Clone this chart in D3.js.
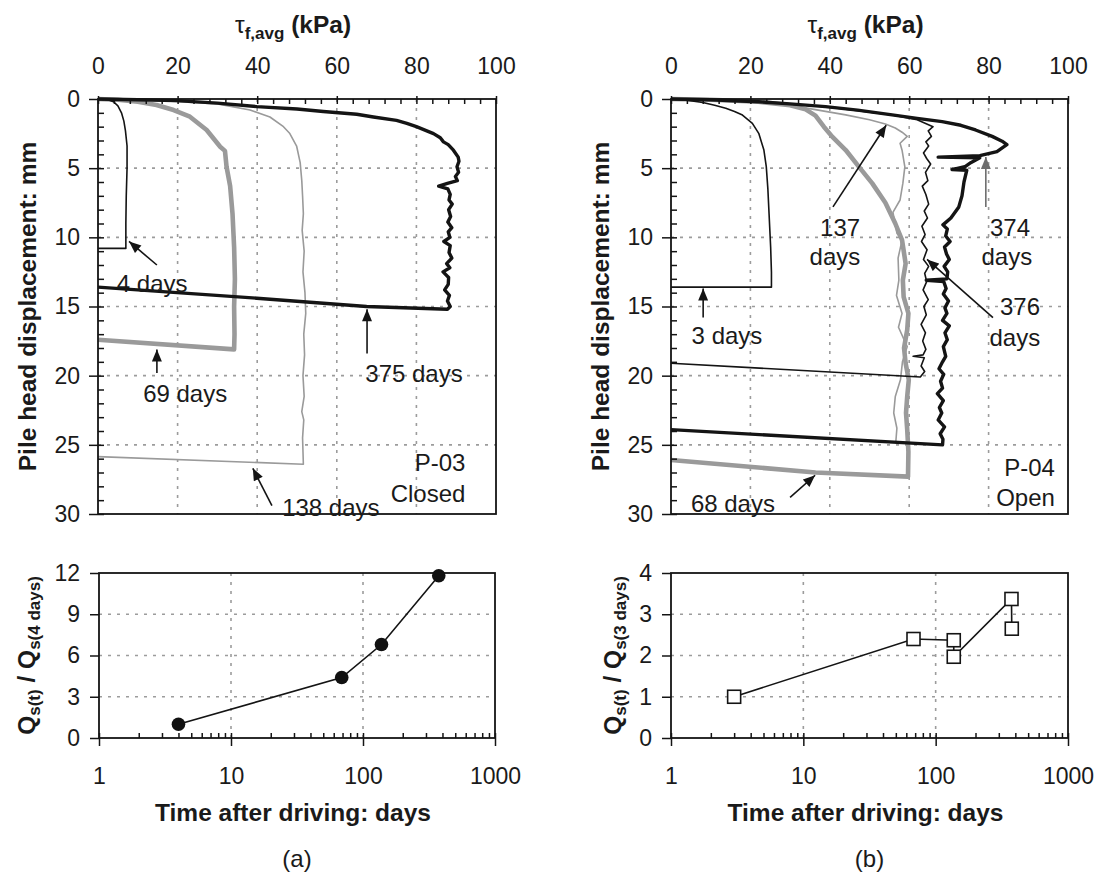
<!DOCTYPE html>
<html><head><meta charset="utf-8">
<script src="https://cdn.jsdelivr.net/npm/d3@7"></script>
<style>
body{margin:0;background:#fff}
svg{display:block}
text{font-family:"Liberation Sans",Arial,Helvetica,sans-serif;fill:#1a1a1a}
</style>
</head><body>
<svg id="c" width="1108" height="879"></svg>
<script>
// ---------- tick labels ----------
const tauTicks = [0, 20, 40, 60, 80, 100];
const dispTicks = [0, 5, 10, 15, 20, 25, 30];
const timeTicks = [1, 10, 100, 1000];
const ratioTicksA = [0, 3, 6, 9, 12];
const ratioTicksB = [0, 1, 2, 3, 4];

// ---------- (a) P-03 closed: [tau_f,avg kPa, displacement mm] ----------
const curveA4 = [[0,0],[2.5,0.05],[3.9,0.2],[5.0,0.5],[5.9,1.0],[6.5,1.6],[6.9,2.3],[7.3,3.4],[7.3,5.0],[7.1,7.0],[7.0,9.0],[7.0,10.8],[0,10.8]];
const curveA69 = [[0,0],[5,0.05],[10,0.2],[14.7,0.43],[19,0.8],[23.1,1.28],[27.3,2.24],[30.7,3.45],[31.9,3.75],[32.3,4.9],[33.2,6.3],[33.8,8.3],[34.2,10.7],[34.4,13],[34.2,15],[34.3,17],[34.2,18.1],[0,17.4]];
const curveA138 = [[0,0],[15,0.1],[30,0.35],[38.2,0.8],[43.2,1.3],[46.6,2.0],[48.2,2.5],[49.9,3.4],[50.8,4.6],[51.2,5.9],[51.4,7.0],[51.6,8.3],[51.3,9.5],[51.8,11.0],[51.5,12.5],[52.0,14.0],[52.2,15.5],[51.7,17.0],[51.9,18.5],[51.5,20.0],[51.8,21.5],[51.2,22.6],[51.7,23.2],[51.4,24.5],[51.6,26.4],[0,25.85]];
const curveA375 = [[0,0],[10,0.05],[19.8,0.12],[30,0.3],[39.9,0.55],[50,0.72],[56.6,0.9],[65,1.1],[69.2,1.3],[75,1.55],[77.6,1.76],[80,2.0],[84.3,2.5],[86,2.8],[86.8,3.1],[88,3.3],[89.3,3.7],[90.5,4.2],[90.7,4.5],[90.2,4.9],[90.6,5.3],[89.8,5.6],[90.3,5.9],[87.8,6.1],[85.6,6.3],[87.9,6.5],[88.5,6.9],[88.2,7.3],[89.0,7.6],[88.1,8.0],[88.6,8.5],[87.9,8.9],[88.9,9.3],[88.0,9.6],[88.4,10.0],[86.9,10.3],[88.5,10.6],[88.2,11.1],[88.9,11.5],[87.6,11.9],[88.4,12.2],[86.7,12.5],[88.1,12.9],[88.0,13.4],[87.1,13.8],[88.3,14.2],[87.8,14.6],[88.5,15.0],[87.8,15.2],[67.5,15.0],[39.9,14.4],[0,13.6]];

// ---------- (b) P-04 open ----------
const curveB3 = [[0,0],[4,0.08],[8,0.25],[11,0.45],[13.8,0.67],[16,0.9],[18,1.16],[20.5,1.76],[22.1,2.48],[23.4,3.69],[24.0,4.89],[24.4,6.5],[24.7,8.3],[25.1,10.7],[25.3,12.5],[25.3,13.6],[0,13.6]];
const curveB68 = [[0,0],[10,0.05],[22,0.2],[30,0.45],[33.9,0.75],[36.4,1.2],[38.5,2.0],[40.6,2.72],[44.0,3.69],[47.3,4.89],[50.7,6.1],[54.0,7.5],[56.5,9.0],[58.2,10.2],[59.1,11.9],[58.4,13.1],[58.6,14.3],[59.8,15.5],[59.5,16.7],[58.7,18.0],[59.1,19.1],[59.9,20.3],[59.5,21.5],[59.2,22.7],[59.5,23.9],[59.8,25.5],[59.7,27.3],[36.4,27.0],[0,26.1]];
const curveB137 = [[0,0],[10,0.05],[22,0.2],[30,0.45],[36,0.75],[44,1.15],[50,1.5],[54,1.8],[56.5,2.1],[58.2,2.4],[59.5,2.7],[57.7,3.2],[58.2,3.7],[58.9,4.9],[58.4,6.1],[57.7,7.3],[55.9,8.2],[56.9,9.7],[58.2,10.2],[57.2,11.5],[57.4,13.1],[56.8,14.2],[58.2,15.5],[57.3,16.5],[59.5,17.9],[58.3,19.0],[57.8,20.3],[56.5,21.5],[56.1,22.7],[56.9,23.8],[56.6,24.9]];
const curveB376 = [[0,0],[10,0.05],[22.1,0.2],[38.9,0.55],[55.7,1.15],[62,1.5],[66,2.0],[64.8,2.3],[65.6,2.7],[64.2,3.1],[64.9,3.4],[63.6,3.9],[64.4,4.3],[65.4,4.7],[64.1,5.3],[64.7,5.9],[63.3,6.3],[64.2,6.9],[64.9,7.6],[63.8,8.1],[64.6,8.6],[63.2,9.2],[64.0,9.8],[63.1,10.3],[64.5,10.9],[63.6,11.6],[64.9,12.1],[63.9,12.6],[64.4,13.2],[63.5,13.8],[64.8,14.5],[63.7,15.0],[64.3,15.6],[63.0,16.3],[64.1,16.9],[63.4,17.5],[64.2,18.1],[63.5,18.5],[61.0,18.6],[63.8,18.7],[63.0,19.3],[63.9,19.7],[62.8,20.1],[0,19.1]];
const curveB374 = [[0,0],[10,0.05],[22.1,0.2],[30,0.35],[38.9,0.55],[47,0.8],[55.7,1.15],[62,1.4],[68.3,1.64],[73,1.9],[76.7,2.24],[80.9,2.7],[83.4,3.05],[84.6,3.3],[82.1,3.8],[77.8,4.1],[67.3,4.2],[77.8,4.25],[75.5,4.6],[74,4.9],[70.8,5.1],[74.5,5.15],[73.8,6.0],[73.3,7.0],[72.5,7.8],[70.5,8.6],[68.5,9.1],[69.6,9.4],[69.2,9.9],[70.3,10.3],[68.9,10.7],[69.4,11.2],[70.1,11.6],[68.8,12.1],[69.7,12.5],[69.5,13.0],[64.3,13.1],[68.7,13.2],[69.3,13.7],[68.6,14.1],[69.9,14.6],[69.0,15.1],[69.5,15.5],[68.4,16.0],[70.1,16.4],[69.0,16.9],[69.6,17.4],[68.6,17.9],[69.2,18.6],[68.4,19.0],[67.5,19.5],[68.7,19.9],[67.9,20.4],[68.4,20.9],[67.1,21.3],[68.6,21.8],[67.6,22.3],[68.2,22.7],[67.3,23.2],[68.9,23.7],[67.8,24.2],[68.5,24.6],[68.4,25.0],[0,23.9]];

// ---------- lower panels: time (days) vs Qs(t)/Qs(ref) ----------
const daysA = [4, 69, 138, 375];
const ratioA = [1.0, 4.4, 6.8, 11.8];
const daysB = [3, 68, 137, 137, 374, 376];
const ratioB = [1.0, 2.4, 2.37, 1.97, 3.37, 2.65];

// ---------- annotation labels (data units) ----------
const annA = [
  {lines:["4 days"], at:[[13.6,13.3]], from:[14.8,12.0], to:[7.8,10.3]},
  {lines:["69 days"], at:[[21.9,21.3]], from:[14.8,19.8], to:[14.8,18.1]},
  {lines:["375 days"], at:[[79.4,19.8]], from:[67.6,18.4], to:[67.6,15.2]},
  {lines:["138 days"], at:[[58.5,29.5]], from:[43.7,29.4], to:[38.9,26.7]}
];
const annB = [
  {lines:["137","days"], at:[[42.6,9.3],[41.3,11.4]], from:[40.8,7.8], to:[54.2,1.9]},
  {lines:["374","days"], at:[[85.4,9.3],[84.6,11.4]], from:[79.3,7.8], to:[79.3,4.2], gray:true},
  {lines:["376","days"], at:[[87.9,15.0],[86.6,17.2]], from:[81.1,15.8], to:[64.5,11.6]},
  {lines:["3 days"], at:[[14.1,17.1]], from:[8.1,15.8], to:[8.1,13.7]},
  {lines:["68 days"], at:[[15.6,29.2]], from:[30.0,28.8], to:[36.3,27.2]}
];
const pileA = ["P-03", "Closed"];
const pileB = ["P-04", "Open"];

// ---------- styles ----------
const ST = {
  thinBlack: {stroke:"#141414", w:1.6},
  thickBlack:{stroke:"#141414", w:3.4},
  thinGray:  {stroke:"#9a9a9a", w:1.6},
  thickGray: {stroke:"#9a9a9a", w:4.6}
};
const TICKF = 23, ANNF = 24, TITLEF = 24.5, SUBF = 17;
const svg = d3.select("#c");

const defs = svg.append("defs");
[["arrK","#141414"],["arrG","#6e6e6e"]].forEach(([id,col]) => {
  defs.append("marker").attr("id",id).attr("viewBox","0 0 12 10")
    .attr("refX",12).attr("refY",5).attr("markerWidth",13).attr("markerHeight",10)
    .attr("markerUnits","userSpaceOnUse").attr("orient","auto")
    .append("path").attr("d","M0,0 L12,5 L0,10 Z").attr("fill",col);
});

function styleAxis(sel){
  sel.select(".domain").remove();
  sel.selectAll("line").attr("stroke","#141414").attr("stroke-width",1.5);
  sel.selectAll("text").attr("font-size",TICKF).attr("fill","#1a1a1a")
     .attr("font-family",'"Liberation Sans",Arial,sans-serif');
}

function gridLine(sel){
  return sel.attr("stroke","#9c9c9c").attr("stroke-width",1.6).attr("stroke-dasharray","3,6");
}

function drawTop(cfg){
  const x = d3.scaleLinear().domain([0,100]).range([cfg.x0, cfg.x1]);
  const y = d3.scaleLinear().domain([0,30]).range([99, 514]);
  const g = svg.append("g");

  g.selectAll(null).data(tauTicks.slice(1,-1)).join("line")
    .attr("x1",d=>x(d)).attr("x2",d=>x(d)).attr("y1",y(0)).attr("y2",y(30)).call(gridLine);
  g.selectAll(null).data(dispTicks.slice(1,-1)).join("line")
    .attr("y1",d=>y(d)).attr("y2",d=>y(d)).attr("x1",x(0)).attr("x2",x(100)).call(gridLine);

  const line = d3.line().x(d=>x(d[0])).y(d=>y(d[1]));
  cfg.curves.forEach(c => {
    g.append("path").attr("d", line(c.pts)).attr("fill","none")
      .attr("stroke", c.st.stroke).attr("stroke-width", c.st.w)
      .attr("stroke-linejoin","round").attr("stroke-linecap","butt");
  });

  g.append("rect").attr("x",x(0)).attr("y",y(0)).attr("width",x(100)-x(0)).attr("height",y(30)-y(0))
    .attr("fill","none").attr("stroke","#141414").attr("stroke-width",1.8);

  g.append("g").attr("transform",`translate(0,${y(0)})`)
    .call(d3.axisTop(x).tickValues(tauTicks).tickSize(3).tickPadding(22.5).tickFormat(d3.format("d")))
    .call(styleAxis);
  g.append("g").attr("transform",`translate(0,${y(0)})`)
    .call(d3.axisTop(x).tickValues(d3.range(0,101,4)).tickSize(-5).tickFormat(""))
    .call(styleAxis);
  g.append("g").attr("transform",`translate(${x(0)},0)`)
    .call(d3.axisLeft(y).tickValues(dispTicks).tickSize(9).tickPadding(9).tickFormat(d3.format("d")))
    .call(styleAxis);
  g.append("g").attr("transform",`translate(${x(0)},0)`)
    .call(d3.axisLeft(y).tickValues(d3.range(0,31,1)).tickSize(-6).tickFormat(""))
    .call(styleAxis);

  const t = g.append("text").attr("x",(x(0)+x(100))/2 - 4).attr("y",33)
    .attr("text-anchor","middle").attr("font-size",TITLEF).attr("font-weight","bold");
  t.append("tspan").text("τ").attr("font-weight","normal");
  t.append("tspan").text("f,avg").attr("font-size",SUBF).attr("dy",6);
  t.append("tspan").text(" (kPa)").attr("dy",-6);

  g.append("text").attr("transform",`translate(${cfg.ytX},${(y(0)+y(30))/2}) rotate(-90)`)
    .attr("text-anchor","middle").attr("dy","0.35em").attr("font-size",TITLEF).attr("font-weight","bold")
    .text("Pile head displacement: mm");

  cfg.ann.forEach(a => {
    a.lines.forEach((s,i) => {
      g.append("text").attr("x",x(a.at[i][0])).attr("y",y(a.at[i][1])).attr("dy","0.36em")
        .attr("text-anchor","middle").attr("font-size",ANNF).text(s);
    });
    g.append("line").attr("x1",x(a.from[0])).attr("y1",y(a.from[1]))
      .attr("x2",x(a.to[0])).attr("y2",y(a.to[1]))
      .attr("stroke", a.gray ? "#6e6e6e" : "#141414").attr("stroke-width",1.6)
      .attr("marker-end", a.gray ? "url(#arrG)" : "url(#arrK)");
  });
  cfg.pile.forEach((s,i) => {
    g.append("text").attr("x",x(cfg.pileAt[0])).attr("y",y(cfg.pileAt[1][i])).attr("dy","0.36em")
      .attr("text-anchor","end").attr("font-size",ANNF).text(s);
  });
}

function drawBottom(cfg){
  const x = d3.scaleLog().domain([1,1000]).range([cfg.x0, cfg.x1]);
  const y = d3.scaleLinear().domain([cfg.yTicks[0], cfg.yTicks[cfg.yTicks.length-1]]).range([738, 573]);
  const g = svg.append("g");

  g.selectAll(null).data(timeTicks.slice(1,-1)).join("line")
    .attr("x1",d=>x(d)).attr("x2",d=>x(d)).attr("y1",y.range()[0]).attr("y2",y.range()[1]).call(gridLine);
  g.selectAll(null).data(cfg.yTicks.slice(1,-1)).join("line")
    .attr("y1",d=>y(d)).attr("y2",d=>y(d)).attr("x1",x(1)).attr("x2",x(1000)).call(gridLine);

  g.append("rect").attr("x",x(1)).attr("y",y.range()[1]).attr("width",x(1000)-x(1)).attr("height",y.range()[0]-y.range()[1])
    .attr("fill","none").attr("stroke","#141414").attr("stroke-width",1.8);

  const minor = [];
  [1,10,100].forEach(dec => { for (let k=2;k<=9;k++) minor.push(dec*k); });
  g.append("g").attr("transform",`translate(0,${y.range()[0]})`)
    .call(d3.axisBottom(x).tickValues(minor).tickSize(-5).tickFormat(""))
    .call(styleAxis);
  g.append("g").attr("transform",`translate(0,${y.range()[0]})`)
    .call(d3.axisBottom(x).tickValues(timeTicks).tickSize(8).tickPadding(22).tickFormat(d3.format("d")))
    .call(styleAxis);
  g.append("g").attr("transform",`translate(0,${y.range()[0]})`)
    .call(d3.axisTop(x).tickValues(timeTicks).tickSize(5).tickFormat(""))
    .call(styleAxis);
  g.append("g").attr("transform",`translate(${x(1)},0)`)
    .call(d3.axisLeft(y).tickValues(cfg.yTicks).tickSize(9).tickPadding(10).tickFormat(d3.format("d")))
    .call(styleAxis);

  const pts = cfg.days.map((d,i) => [d, cfg.ratio[i]]);
  g.append("path").attr("d", d3.line().x(d=>x(d[0])).y(d=>y(d[1]))(pts))
    .attr("fill","none").attr("stroke","#141414").attr("stroke-width",1.6);
  if (cfg.marker === "circle") {
    g.selectAll(null).data(pts).join("circle").attr("cx",d=>x(d[0])).attr("cy",d=>y(d[1]))
      .attr("r",6.8).attr("fill","#111");
  } else {
    const s = 13;
    g.selectAll(null).data(pts).join("rect").attr("x",d=>x(d[0])-s/2).attr("y",d=>y(d[1])-s/2)
      .attr("width",s).attr("height",s).attr("fill","#fff").attr("stroke","#141414").attr("stroke-width",1.6);
  }

  const cx = (x(1)+x(1000))/2 - 4;
  g.append("text").attr("x",cx).attr("y",812).attr("dy","0.36em").attr("text-anchor","middle")
    .attr("font-size",TITLEF).attr("font-weight","bold").text("Time after driving: days");
  g.append("text").attr("x",cx+4).attr("y",858).attr("dy","0.36em").attr("text-anchor","middle")
    .attr("font-size",ANNF).text(cfg.letter);

  const t = g.append("text").attr("transform",`translate(${cfg.ytX},${(y.range()[0]+y.range()[1])/2}) rotate(-90)`)
    .attr("text-anchor","middle").attr("dy","0.35em").attr("font-size",TITLEF).attr("font-weight","bold");
  t.append("tspan").text("Q");
  t.append("tspan").text("s(t)").attr("font-size",SUBF).attr("dy",5);
  t.append("tspan").text(" / Q").attr("dy",-5);
  t.append("tspan").text(cfg.refSub).attr("font-size",SUBF).attr("dy",5);
}

drawTop({
  x0:98, x1:496, ytX:27,
  curves:[
    {pts:curveA69, st:ST.thickGray},
    {pts:curveA138, st:ST.thinGray},
    {pts:curveA4, st:ST.thinBlack},
    {pts:curveA375, st:ST.thickBlack}
  ],
  ann:annA, pile:pileA, pileAt:[92.3,[26.3,28.5]]
});
drawTop({
  x0:671, x1:1068, ytX:600,
  curves:[
    {pts:curveB68, st:ST.thickGray},
    {pts:curveB137, st:ST.thinGray},
    {pts:curveB3, st:ST.thinBlack},
    {pts:curveB376, st:ST.thinBlack},
    {pts:curveB374, st:ST.thickBlack}
  ],
  ann:annB, pile:pileB, pileAt:[96.7,[26.6,28.8]]
});
drawBottom({x0:99, x1:495, yTicks:ratioTicksA, days:daysA, ratio:ratioA, marker:"circle",
  letter:"(a)", ytX:26, refSub:"s(4 days)"});
drawBottom({x0:671, x1:1068, yTicks:ratioTicksB, days:daysB, ratio:ratioB, marker:"square",
  letter:"(b)", ytX:612, refSub:"s(3 days)"});
</script>
</body></html>
